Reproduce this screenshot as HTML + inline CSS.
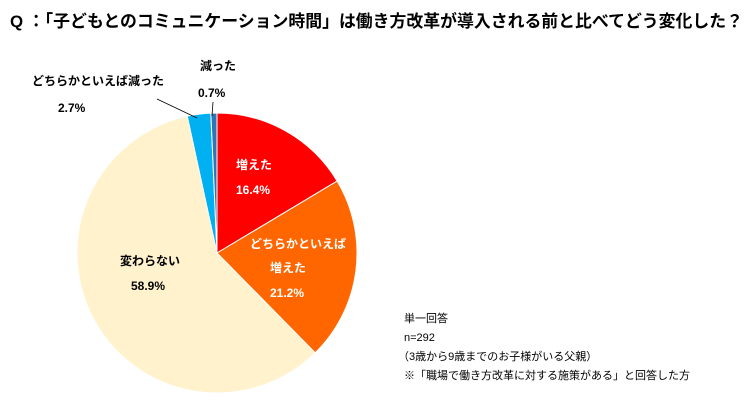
<!DOCTYPE html>
<html><head><meta charset="utf-8"><style>
body{margin:0;width:750px;height:400px;background:#fff;overflow:hidden;font-family:"Liberation Sans","Noto Sans CJK JP",sans-serif;}
svg text{font-family:"Liberation Sans","Noto Sans CJK JP",sans-serif;font-weight:bold;}
</style></head><body>
<svg id="s" width="750" height="400" xmlns="http://www.w3.org/2000/svg">
<text x="10" y="27" font-size="17" fill="#000" textLength="733" lengthAdjust="spacingAndGlyphs">Q ：「子どもとのコミュニケーション時間」は働き方改革が導入される前と比べてどう変化した？</text>
<g id="pie"></g>
<line x1="157" y1="99" x2="197" y2="118" stroke="#000" stroke-width="0.8"/>
<line x1="213" y1="102" x2="212" y2="116" stroke="#000" stroke-width="0.8"/>
<text x="200" y="70" font-size="12">減った</text>
<text x="198" y="97" font-size="12">0.7%</text>
<text x="32" y="85" font-size="12">どちらかといえば減った</text>
<text x="58" y="112" font-size="12">2.7%</text>
<text x="236" y="169" font-size="12" fill="#fff">増えた</text>
<text x="236" y="194" font-size="12" fill="#fff">16.4%</text>
<text x="250" y="248" font-size="12" fill="#fff">どちらかといえば</text>
<text x="270" y="272" font-size="12" fill="#fff">増えた</text>
<text x="270" y="297" font-size="12" fill="#fff">21.2%</text>
<text x="120" y="265" font-size="12">変わらない</text>
<text x="131" y="290" font-size="12">58.9%</text>
<g font-size="11" style="font-weight:normal">
<text x="404" y="322" style="font-weight:normal">単一回答</text>
<text x="404" y="341" style="font-weight:normal">n=292</text>
<text x="398" y="360" style="font-weight:normal">（3歳から9歳までのお子様がいる父親）</text>
<text x="404" y="379" style="font-weight:normal">※「職場で働き方改革に対する施策がある」と回答した方</text>
</g>
</svg>
<script>
var cx=217,cy=253,r=140,d=[[16.4,"#ff0000"],[21.2,"#ff6600"],[58.9,"#fff2cc"],[2.7,"#00b0f0"],[0.7,"#2e75b6"]];
var tot=0;d.forEach(function(x){tot+=x[0]});var a=0,g=document.getElementById("pie"),h="";
d.forEach(function(x){var b=a+x[0]/tot*2*Math.PI;
var x1=cx+r*Math.sin(a),y1=cy-r*Math.cos(a),x2=cx+r*Math.sin(b),y2=cy-r*Math.cos(b);
h+='<path d="M'+cx+','+cy+'L'+x1+','+y1+'A'+r+','+r+' 0 '+((b-a)>Math.PI?1:0)+' 1 '+x2+','+y2+'Z" fill="'+x[1]+'" stroke="#fff" stroke-width="1"/>';a=b;});
g.innerHTML=h;
</script>
</body></html>
